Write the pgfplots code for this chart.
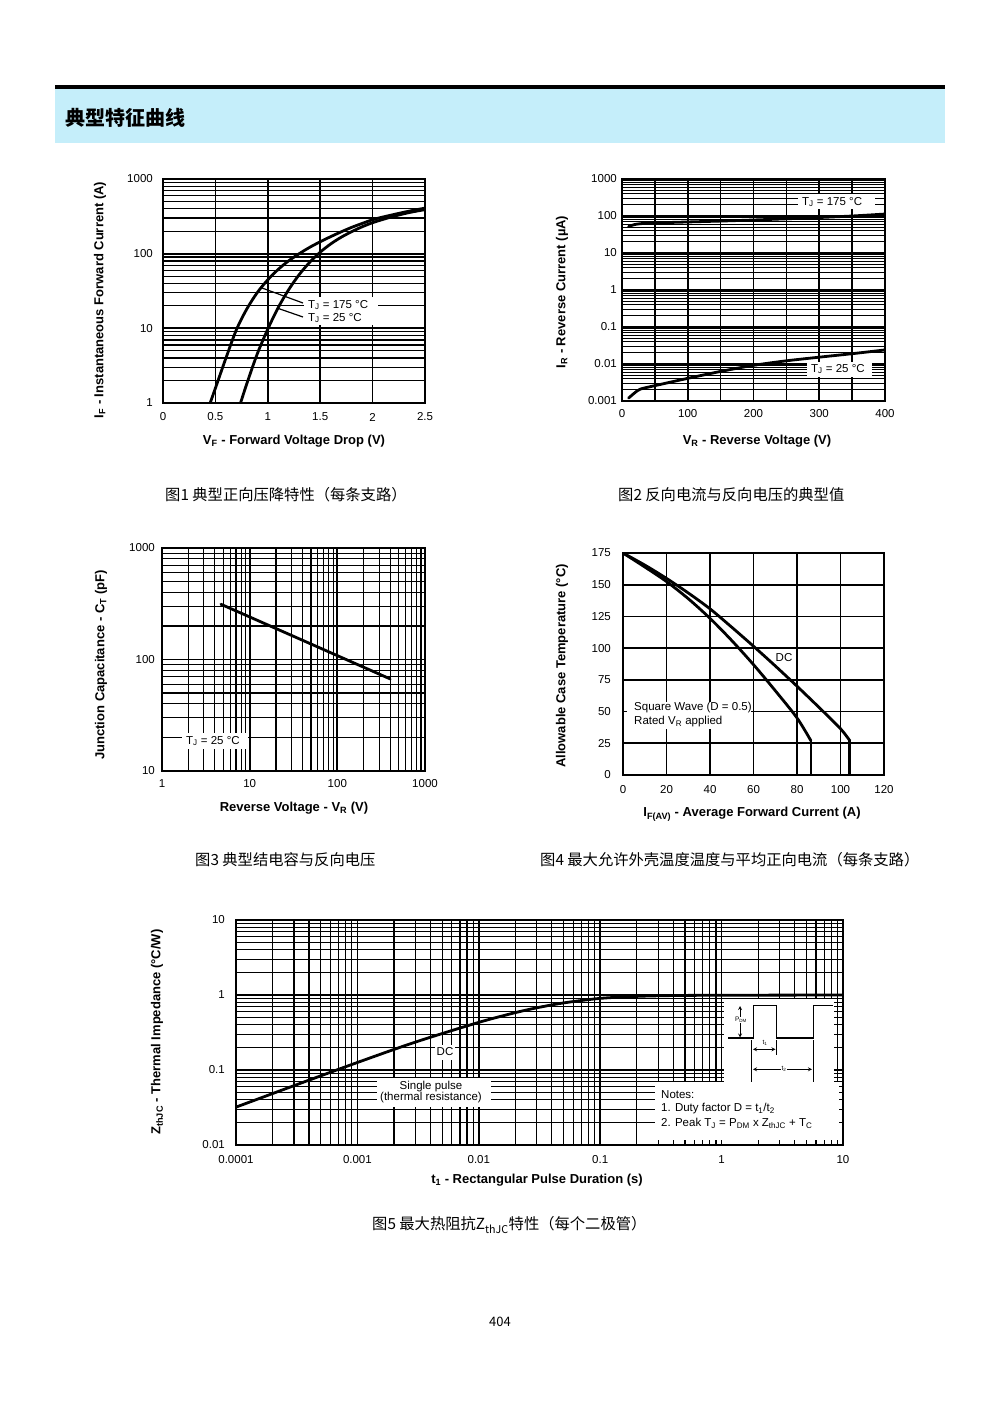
\documentclass[border=0pt]{standalone}
\usepackage{pgfplots}
\pgfplotsset{compat=1.18}
\usepackage{fontspec}
\setmainfont{Liberation Sans}
\newfontfamily\cjk{Noto Sans CJK SC}
\definecolor{hdrblue}{RGB}{197,238,250}
\newcommand{\tickf}{\fontsize{11.5}{12}\selectfont}
\newcommand{\labf}{\bfseries\fontsize{13}{14}\selectfont}
\newcommand{\annf}{\fontsize{11.5}{12}\selectfont}
\newcommand{\capf}{\cjk\fontsize{15.3}{15.3}\selectfont}
\pgfplotsset{
  base/.style={
    scale only axis, anchor=south west,
    axis line style={line width=2.2pt},
    major grid style={black, line width=1.7pt},
    minor grid style={black, line width=1.2pt},
    tick style={draw=none},
    xticklabel style={font=\tickf, anchor=center},
    yticklabel style={font=\tickf, anchor=east, inner sep=0pt},
  },
  curve/.style={black, line width=2.8pt, line join=round, line cap=round},
}
\begin{document}
\begin{tikzpicture}[x=1pt,y=1pt]
\path[use as bounding box, fill=white] (0,0) rectangle (1000,-1414);
% header
\fill[hdrblue] (55,-89) rectangle (945,-143);
\draw[line width=3.5pt] (55,-87) -- (945,-87);
\node[anchor=west, inner sep=0pt, font=\cjk\bfseries\fontsize{20}{20}\selectfont] at (65,-118) {典型特征曲线};

% ---------------- Chart 1
\begin{axis}[base, at={(163pt,-403pt)}, width=262pt, height=224pt,
  xmin=0, xmax=2.5, ymode=log, ymin=1, ymax=1000,
  xtick={0,0.5,1,1.5,2,2.5}, xticklabels={0,0.5,1,1.5,2,2.5},
  ytick={1,10,100,1000}, yticklabels={1,10,100,1000},
  minor ytick={2,3,4,5,6,7,8,9,20,30,40,50,60,70,80,90,200,300,400,500,600,700,800,900},
  xmajorgrids, ymajorgrids, yminorgrids,
  xticklabel style={yshift=-14pt}, yticklabel style={xshift=-10pt}]
\addplot[curve, smooth] coordinates {(0.45,1) (0.5,1.58) (0.6,3.98) (0.7,9.55) (0.8,18.2) (0.9,30.2) (1.0,44.7) (1.1,61.7) (1.2,80.4) (1.3,100) (1.4,121.6) (1.5,144.5) (1.6,169) (1.7,196) (1.8,225) (1.9,254) (2.0,285) (2.1,310) (2.2,334) (2.3,359) (2.4,384) (2.5,407)};
\addplot[curve, smooth] coordinates {(0.74,1) (0.8,1.82) (0.9,4.57) (1.0,9.77) (1.1,19.05) (1.2,33.1) (1.3,52.5) (1.4,76.7) (1.5,104.7) (1.6,134.9) (1.7,166) (1.8,197) (1.9,229) (2.0,260) (2.1,288) (2.2,316) (2.3,343) (2.4,367) (2.5,389)};
\end{axis}
\fill[white] (304,-297) rectangle (378,-325);
\node[anchor=west, inner sep=0pt, font=\annf] at (308,-305) {T\textsubscript{J} = 175 °C};
\node[anchor=west, inner sep=0pt, font=\annf] at (308,-318) {T\textsubscript{J} = 25 °C};
\draw[line width=1.2pt] (262,-288) -- (303,-303);
\draw[line width=1.2pt] (277,-308) -- (303,-317);
\node[rotate=90, font=\labf] at (100,-300) {I\textsubscript{F} - Instantaneous Forward Current (A)};
\node[font=\labf] at (294,-441) {V\textsubscript{F} - Forward Voltage Drop (V)};

% ---------------- Chart 2
\begin{axis}[base, at={(622pt,-401pt)}, width=263pt, height=222pt,
  xmin=0, xmax=400, ymode=log, ymin=0.001, ymax=1000,
  xtick={0,100,200,300,400}, xticklabels={0,100,200,300,400},
  minor xtick={50,150,250,350},
  ytick={0.001,0.01,0.1,1,10,100,1000}, yticklabels={0.001,0.01,0.1,1,10,100,1000},
  minor ytick={0.002,0.003,0.004,0.005,0.006,0.007,0.008,0.009,0.02,0.03,0.04,0.05,0.06,0.07,0.08,0.09,0.2,0.3,0.4,0.5,0.6,0.7,0.8,0.9,2,3,4,5,6,7,8,9,20,30,40,50,60,70,80,90,200,300,400,500,600,700,800,900},
  xmajorgrids, xminorgrids, ymajorgrids, yminorgrids,
  minor x grid style={black, line width=1.7pt},
  xticklabel style={yshift=-13pt}, yticklabel style={xshift=-5pt}]
\addplot[curve, smooth] coordinates {(10,52) (18,58) (28,62) (50,65) (100,69) (150,73) (200,78) (250,84) (300,91) (350,100) (400,113)};
\addplot[curve, smooth] coordinates {(10,0.0012) (20,0.0017) (28,0.0021) (50,0.0026) (100,0.0041) (150,0.0063) (200,0.0092) (250,0.0122) (300,0.0153) (350,0.019) (400,0.024)};
\end{axis}
\fill[white] (798,-194) rectangle (875,-209);
\node[anchor=west, inner sep=0pt, font=\annf] at (802,-202) {T\textsubscript{J} = 175 °C};
\fill[white] (807,-362) rectangle (872,-377);
\node[anchor=west, inner sep=0pt, font=\annf] at (811,-369) {T\textsubscript{J} = 25 °C};
\node[rotate=90, font=\labf] at (562,-292) {I\textsubscript{R} - Reverse Current (µA)};
\node[font=\labf] at (757,-441) {V\textsubscript{R} - Reverse Voltage (V)};

% ---------------- Chart 3
\begin{axis}[base, at={(162pt,-771pt)}, width=263pt, height=223pt,
  xmode=log, ymode=log,
  xmin=1, xmax=1000, ymin=10, ymax=1000,
  xtick={1,10,100,1000}, xticklabels={1,10,100,1000},
  ytick={10,100,1000}, yticklabels={10,100,1000},
  minor xtick={2,3,4,5,6,7,8,9,20,30,40,50,60,70,80,90,200,300,400,500,600,700,800,900},
  minor ytick={20,30,40,50,60,70,80,90,200,300,400,500,600,700,800,900},
  xmajorgrids, xminorgrids, ymajorgrids, yminorgrids,
  xticklabel style={yshift=-13pt}, yticklabel style={xshift=-7pt}]
\addplot[curve] coordinates {(4.7,313) (400,67)};
\end{axis}
\fill[white] (182,-733) rectangle (248,-749);
\node[anchor=west, inner sep=0pt, font=\annf] at (186,-741) {T\textsubscript{J} = 25 °C};
\node[rotate=90, font=\labf] at (101,-665) {Junction Capacitance - C\textsubscript{T} (pF)};
\node[font=\labf] at (294,-808) {Reverse Voltage - V\textsubscript{R} (V)};

% ---------------- Chart 4
\begin{axis}[base, at={(623pt,-775pt)}, width=261pt, height=222pt,
  xmin=0, xmax=120, ymin=0, ymax=175,
  xtick={0,20,40,60,80,100,120}, xticklabels={0,20,40,60,80,100,120},
  ytick={0,25,50,75,100,125,150,175}, yticklabels={0,25,50,75,100,125,150,175},
  xmajorgrids, ymajorgrids,
  xticklabel style={yshift=-15pt}, yticklabel style={xshift=-12pt}]
\addplot[curve, smooth] coordinates {(0,175) (10,165.5) (20,155) (30,143.5) (40,131) (50,116.5) (60,101.5) (70,86) (80,70) (90,53.5) (100,36.5) (104.3,27)};
\addplot[curve] coordinates {(104.3,27) (104.3,0)};
\addplot[curve, smooth] coordinates {(0,175) (10,164) (20,152.5) (30,139) (40,123.5) (50,106) (60,87) (70,66.5) (80,45) (86.4,27)};
\addplot[curve] coordinates {(86.4,27) (86.4,0)};
\end{axis}
\fill[white] (627,-702) rectangle (751,-729);
\node[anchor=west, inner sep=0pt, font=\annf] at (634,-708) {Square Wave (D = 0.5)};
\node[anchor=west, inner sep=0pt, font=\annf] at (634,-722) {Rated V\textsubscript{R} applied};
\node[font=\annf] at (784,-658) {DC};
\node[rotate=90, font=\labf] at (562,-666) {Allowable Case Temperature (°C)};
\node[font=\labf] at (752,-814) {I\textsubscript{F(AV)} - Average Forward Current (A)};

% ---------------- Chart 5
\begin{axis}[base, at={(236pt,-1145pt)}, width=607pt, height=225pt,
  xmode=log, ymode=log,
  xmin=0.0001, xmax=10, ymin=0.01, ymax=10,
  xtick={0.0001,0.001,0.01,0.1,1,10}, xticklabels={0.0001,0.001,0.01,0.1,1,10},
  ytick={0.01,0.1,1,10}, yticklabels={0.01,0.1,1,10},
  minor xtick={0.0002,0.0003,0.0004,0.0005,0.0006,0.0007,0.0008,0.0009,0.002,0.003,0.004,0.005,0.006,0.007,0.008,0.009,0.02,0.03,0.04,0.05,0.06,0.07,0.08,0.09,0.2,0.3,0.4,0.5,0.6,0.7,0.8,0.9,2,3,4,5,6,7,8,9},
  minor ytick={0.02,0.03,0.04,0.05,0.06,0.07,0.08,0.09,0.2,0.3,0.4,0.5,0.6,0.7,0.8,0.9,2,3,4,5,6,7,8,9},
  xmajorgrids, xminorgrids, ymajorgrids, yminorgrids,
  xticklabel style={yshift=-15pt}, yticklabel style={xshift=-11pt}]
\addplot[curve, smooth] coordinates {(0.0001,0.032) (0.0003,0.0618) (0.001,0.126) (0.003,0.2355) (0.01,0.432) (0.02,0.582) (0.03,0.675) (0.05,0.785) (0.1,0.902) (0.2,0.959) (0.4,0.984) (1,0.993) (10,1.0)};
\end{axis}
\fill[white] (435,-1045) rectangle (455,-1060);
\node[font=\annf] at (445,-1052) {DC};
\fill[white] (377,-1078) rectangle (491,-1107);
\node[font=\annf, align=center, inner sep=0pt] at (431,-1092) {Single pulse\\[-1pt](thermal resistance)};
\fill[white] (724,-999) rectangle (834,-1083);
\fill[white] (655,-1082) rectangle (839,-1140);
\draw[line width=1.2pt] (728,-1038) -- (753.3,-1038) -- (753.3,-1005.7) -- (776.7,-1005.7) -- (776.7,-1038) -- (813.3,-1038) -- (813.3,-1005.7) -- (832.7,-1005.7);
\draw[line width=0.8pt, <->, >=stealth] (740,-1006) -- (740,-1037.5);
\node[fill=white, inner sep=0.5pt, font=\fontsize{6.5}{7}\selectfont] at (741,-1020) {P\textsubscript{DM}};
\draw[line width=1pt] (751.7,-1040) -- (751.7,-1081.7);
\draw[line width=1pt] (776.7,-1040) -- (776.7,-1055);
\draw[line width=1pt] (813.3,-1040) -- (813.3,-1081.7);
\draw[line width=0.8pt, <->, >=stealth] (753,-1049.3) -- (775.5,-1049.3);
\node[inner sep=0.5pt, font=\fontsize{6.5}{7}\selectfont] at (765,-1043) {t\textsubscript{1}};
\draw[line width=0.8pt, <->, >=stealth] (753,-1069.3) -- (812,-1069.3);
\node[fill=white, inner sep=0.5pt, font=\fontsize{6.5}{7}\selectfont] at (784,-1069.3) {t\textsubscript{2}};
\node[anchor=west, inner sep=0pt, font=\annf] at (661,-1095) {Notes:};
\node[anchor=west, inner sep=0pt, font=\annf] at (661,-1109) {1. Duty factor D = t\textsubscript{1}/t\textsubscript{2}};
\node[anchor=west, inner sep=0pt, font=\annf] at (661,-1123) {2. Peak T\textsubscript{J} = P\textsubscript{DM} x Z\textsubscript{thJC} + T\textsubscript{C}};
\node[rotate=90, font=\labf] at (157,-1032) {Z\textsubscript{thJC} - Thermal Impedance (°C/W)};
\node[font=\labf] at (537,-1180) {t\textsubscript{1} - Rectangular Pulse Duration (s)};

% captions
\node[anchor=west, inner sep=0pt, font=\capf] at (165,-495) {图1 典型正向压降特性（每条支路）};
\node[anchor=west, inner sep=0pt, font=\capf] at (618,-495) {图2 反向电流与反向电压的典型值};
\node[anchor=west, inner sep=0pt, font=\capf] at (195,-860) {图3 典型结电容与反向电压};
\node[anchor=west, inner sep=0pt, font=\capf] at (540,-860) {图4 最大允许外壳温度温度与平均正向电流（每条支路）};
\node[anchor=west, inner sep=0pt, font=\capf] at (372,-1225) {图5 最大热阻抗Z\textsubscript{thJC}特性（每个二极管）};
\node[font=\cjk\fontsize{13}{13}\selectfont] at (500,-1322) {404};
\end{tikzpicture}
\end{document}
